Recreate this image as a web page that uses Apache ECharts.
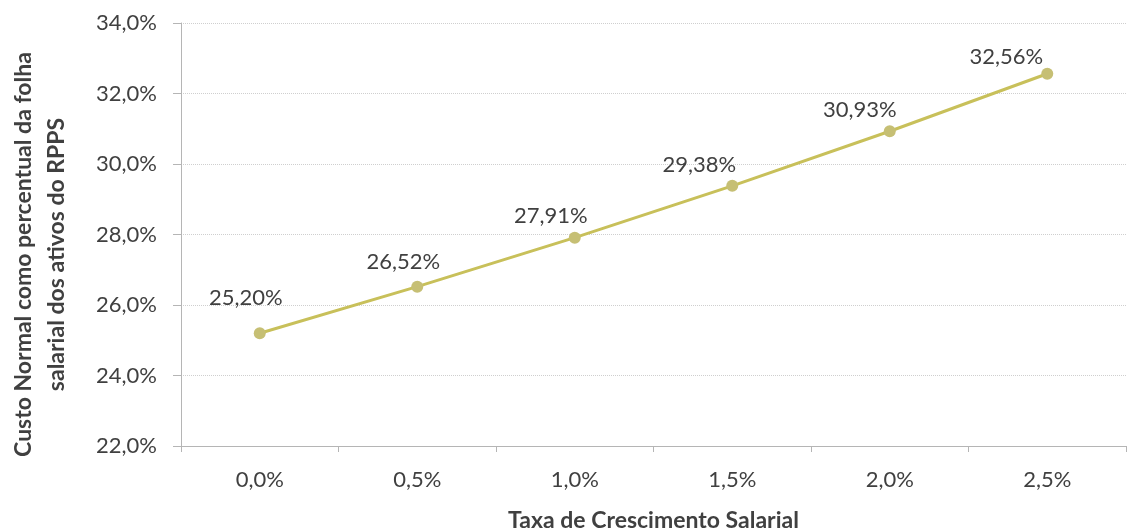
<!DOCTYPE html>
<html>
<head>
<meta charset="utf-8">
<script src="https://cdn.jsdelivr.net/npm/echarts@6/dist/echarts.min.js"></script>
<style>html,body{margin:0;padding:0;background:#fff;}#c{width:1129px;height:532px;}</style>
</head>
<body>
<div id="c"></div>
<script>
const categories = ['0,0%', '0,5%', '1,0%', '1,5%', '2,0%', '2,5%'];
const values = [25.20, 26.52, 27.91, 29.38, 30.93, 32.56];
const yMin = 22, yMax = 34, yStep = 2;
const xTitle = 'Taxa de Crescimento Salarial';
const yTitle = 'Custo Normal como percentual da folha\nsalarial dos ativos do RPPS';
// label placement (style only, not data)
const labelOffsets = [[-14, -13], [-14, -3], [-24, 0], [-33, 1], [-30, 1], [-41, 5]];

const fmt1 = v => v.toFixed(1).replace('.', ',') + '%';
const fmt2 = v => v.toFixed(2).replace('.', ',') + '%';
const font = 'Lato, "Open Sans", sans-serif';

const chart = echarts.init(document.getElementById('c'));
chart.setOption({
  animation: false,
  backgroundColor: '#fff',
  grid: { left: 181, right: 3, top: 23, bottom: 86, containLabel: false, outerBoundsMode: 'none' },
  xAxis: {
    type: 'category',
    data: categories,
    boundaryGap: true,
    axisLine: { lineStyle: { color: '#b5b5b5', width: 1 } },
    axisTick: { show: true, length: 6, lineStyle: { color: '#b5b5b5' } },
    axisLabel: { color: '#404040', fontSize: 22, fontFamily: font, margin: 23 },
    name: xTitle,
    nameLocation: 'middle',
    nameGap: 63,
    nameTextStyle: { color: '#404040', fontSize: 23, fontWeight: 'bold', fontFamily: font }
  },
  yAxis: {
    type: 'value',
    min: yMin, max: yMax, interval: yStep,
    axisLine: { show: true, lineStyle: { color: '#b5b5b5', width: 1 } },
    axisTick: { show: true, length: 8, lineStyle: { color: '#b5b5b5' } },
    splitLine: { show: true, lineStyle: { color: '#cfcfcf', type: 'dotted', width: 1 } },
    axisLabel: { color: '#404040', fontSize: 22, fontFamily: font, margin: 24, formatter: fmt1 },
    name: yTitle,
    nameLocation: 'middle',
    nameGap: 108,
    nameRotate: 90,
    nameTextStyle: { color: '#404040', fontSize: 23, fontWeight: 'bold', fontFamily: font, lineHeight: 33, align: 'center', padding: [0, 40, 0, 0] }
  },
  series: [{
    type: 'line',
    data: values.map((v, i) => ({ value: v, label: { offset: labelOffsets[i] } })),
    symbol: 'circle',
    symbolSize: 12,
    lineStyle: { color: '#c8c05a', width: 3 },
    itemStyle: { color: '#c6bf74' },
    label: {
      show: true,
      position: 'top',
      color: '#404040',
      fontSize: 22,
      fontFamily: font,
      formatter: p => fmt2(p.value)
    }
  }]
});
</script>
</body>
</html>
